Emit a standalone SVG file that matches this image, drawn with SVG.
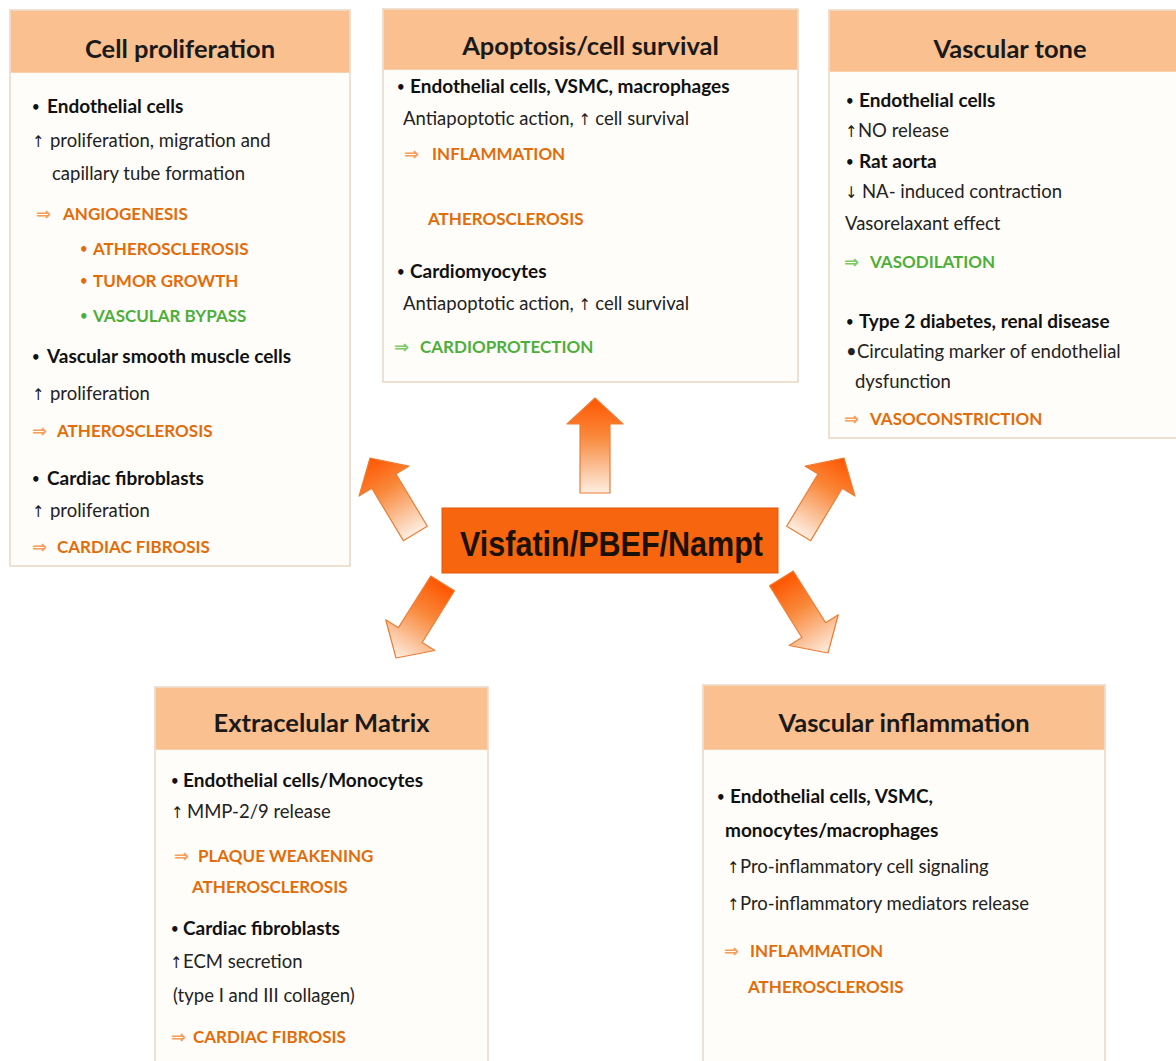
<svg xmlns="http://www.w3.org/2000/svg" width="1176" height="1061" viewBox="0 0 1176 1061">
  <defs>
    <linearGradient id="gUp" x1="0" y1="0" x2="0" y2="1">
      <stop offset="0" stop-color="#FF5500"/>
      <stop offset="0.4" stop-color="#F9883A"/>
      <stop offset="1" stop-color="#FDEEE2"/>
    </linearGradient>
    <linearGradient id="gDown" x1="0" y1="0" x2="0" y2="1">
      <stop offset="0" stop-color="#FDEEE2"/>
      <stop offset="0.6" stop-color="#F9883A"/>
      <stop offset="1" stop-color="#FF5500"/>
    </linearGradient>
    <style>
      .box { fill: #FFFDF9; stroke: #EAD6C4; stroke-width: 1.5; }
      .hdrbg { fill: #FAC08F; }
      .hdr { font-family: Lato, "Liberation Sans", sans-serif; font-weight: 700; font-size: 25.5px; fill: #1A1A1A; text-anchor: middle; }
      .b { font-family: Lato, "Liberation Sans", sans-serif; font-weight: 700; font-size: 19px; fill: #111; }
      .r { font-family: Lato, "Liberation Sans", sans-serif; font-weight: 400; font-size: 18.5px; fill: #222; }
      .o { font-family: Lato, "Liberation Sans", sans-serif; font-weight: 700; font-size: 17px; fill: #E36C0A; }
      .g { font-family: Lato, "Liberation Sans", sans-serif; font-weight: 700; font-size: 17px; fill: #4DAF3A; }
      .ao { font-family: "DejaVu Sans", sans-serif; font-weight: 700; font-size: 18px; fill: #F5A05A; }
      .ag { font-family: "DejaVu Sans", sans-serif; font-weight: 700; font-size: 18px; fill: #7CCB62; }
      .sym { font-family: "DejaVu Sans Condensed", "DejaVu Sans", sans-serif; font-size: 16px; fill: #222; }
      .blt { font-family: "DejaVu Sans", sans-serif; font-weight: 700; font-size: 15px; }
      .arrow { stroke: #EE7C33; stroke-width: 1.2; stroke-linejoin: round; }
      .center { fill: #F8650F; stroke: #E0580A; stroke-width: 1; }
      .ctext { font-family: "Liberation Sans", Arial, sans-serif; font-weight: 700; font-size: 35px; fill: #1A1208; }
    </style>
  </defs>

  <rect width="1176" height="1061" fill="#FFFFFF"/>

  <g id="connectors">
    <polygon class="arrow" fill="url(#gUp)" transform="translate(595,398)" points="0,0 28,26 15,26 15,95 -15,95 -15,26 -28,26"/>
    <polygon class="arrow" fill="url(#gUp)" transform="translate(370,458) rotate(-31)" points="0,0 29,27 14,27 14,88 -14,88 -14,27 -29,27"/>
    <polygon class="arrow" fill="url(#gUp)" transform="translate(844,458) rotate(31)" points="0,0 29,27 14,27 14,88 -14,88 -14,27 -29,27"/>
    <polygon class="arrow" fill="url(#gDown)" transform="translate(396,658) rotate(-148)" points="0,0 29,27 14,27 14,88 -14,88 -14,27 -29,27"/>
    <polygon class="arrow" fill="url(#gDown)" transform="translate(828,653) rotate(148)" points="0,0 29,27 14,27 14,88 -14,88 -14,27 -29,27"/>
  </g>

  <g id="visfatin">
    <rect class="center" x="442" y="508" width="336" height="65"/>
    <text class="ctext" x="460" y="556" textLength="303" lengthAdjust="spacingAndGlyphs">Visfatin/PBEF/Nampt</text>
  </g>

  <g id="cell-proliferation">
    <rect class="box" x="10" y="10" width="340" height="556"/>
    <rect class="hdrbg" x="10.75" y="10.75" width="338.5" height="62"/>
    <text class="hdr" x="180" y="58">Cell proliferation</text>
    <text y="113"><tspan class="blt" x="31" fill="#111">•</tspan><tspan class="b" x="47">Endothelial cells</tspan></text>
    <text y="147"><tspan class="sym" x="32">↑</tspan><tspan class="r" x="50">proliferation, migration and</tspan></text>
    <text class="r" x="52" y="180">capillary tube formation</text>
    <text y="220"><tspan class="ao" x="36">⇒</tspan><tspan class="o" x="63">ANGIOGENESIS</tspan></text>
    <text y="255"><tspan class="blt" x="79" fill="#E36C0A">•</tspan><tspan class="o" x="93">ATHEROSCLEROSIS</tspan></text>
    <text y="287"><tspan class="blt" x="79" fill="#E36C0A">•</tspan><tspan class="o" x="93">TUMOR GROWTH</tspan></text>
    <text y="322"><tspan class="blt" x="79" fill="#4DAF3A">•</tspan><tspan class="g" x="93">VASCULAR BYPASS</tspan></text>
    <text y="363"><tspan class="blt" x="31" fill="#111">•</tspan><tspan class="b" x="47">Vascular smooth muscle cells</tspan></text>
    <text y="400"><tspan class="sym" x="32">↑</tspan><tspan class="r" x="50">proliferation</tspan></text>
    <text y="437"><tspan class="ao" x="32">⇒</tspan><tspan class="o" x="57">ATHEROSCLEROSIS</tspan></text>
    <text y="485"><tspan class="blt" x="31" fill="#111">•</tspan><tspan class="b" x="47">Cardiac fibroblasts</tspan></text>
    <text y="517"><tspan class="sym" x="32">↑</tspan><tspan class="r" x="50">proliferation</tspan></text>
    <text y="553"><tspan class="ao" x="32">⇒</tspan><tspan class="o" x="57">CARDIAC FIBROSIS</tspan></text>
  </g>

  <g id="apoptosis">
    <rect class="box" x="383" y="9" width="415" height="373"/>
    <rect class="hdrbg" x="383.75" y="9.75" width="413.5" height="60"/>
    <text class="hdr" x="590.5" y="55">Apoptosis/cell survival</text>
    <text y="93"><tspan class="blt" x="396" fill="#111">•</tspan><tspan class="b" x="410">Endothelial cells, VSMC, macrophages</tspan></text>
    <text y="125"><tspan class="r" x="403">Antiapoptotic action, </tspan><tspan class="sym">↑</tspan><tspan class="r"> cell survival</tspan></text>
    <text y="160"><tspan class="ao" x="404">⇒</tspan><tspan class="o" x="432">INFLAMMATION</tspan></text>
    <text class="o" x="428" y="225">ATHEROSCLEROSIS</text>
    <text y="278"><tspan class="blt" x="396" fill="#111">•</tspan><tspan class="b" x="410">Cardiomyocytes</tspan></text>
    <text y="310"><tspan class="r" x="403">Antiapoptotic action, </tspan><tspan class="sym">↑</tspan><tspan class="r"> cell survival</tspan></text>
    <text y="353"><tspan class="ag" x="394">⇒</tspan><tspan class="g" x="420">CARDIOPROTECTION</tspan></text>
  </g>

  <g id="vascular-tone">
    <rect class="box" x="829" y="10" width="362" height="428"/>
    <rect class="hdrbg" x="829.75" y="10.75" width="360" height="61"/>
    <text class="hdr" x="1010" y="58">Vascular tone</text>
    <text y="107"><tspan class="blt" x="845" fill="#111">•</tspan><tspan class="b" x="859">Endothelial cells</tspan></text>
    <text y="137"><tspan class="sym" x="845">↑</tspan><tspan class="r" x="858">NO release</tspan></text>
    <text y="168"><tspan class="blt" x="845" fill="#111">•</tspan><tspan class="b" x="859">Rat aorta</tspan></text>
    <text y="198"><tspan class="sym" x="845">↓</tspan><tspan class="r" x="862">NA- induced contraction</tspan></text>
    <text class="r" x="845" y="230">Vasorelaxant effect</text>
    <text y="268"><tspan class="ag" x="844">⇒</tspan><tspan class="g" x="870">VASODILATION</tspan></text>
    <text y="328"><tspan class="blt" x="845" fill="#111">•</tspan><tspan class="b" x="859">Type 2 diabetes, renal disease</tspan></text>
    <text y="358"><tspan class="r" x="846">•</tspan><tspan class="r" x="857">Circulating marker of endothelial</tspan></text>
    <text class="r" x="855" y="388">dysfunction</text>
    <text y="425"><tspan class="ao" x="844">⇒</tspan><tspan class="o" x="870">VASOCONSTRICTION</tspan></text>
  </g>

  <g id="extracellular-matrix">
    <rect class="box" x="155" y="687" width="333" height="390"/>
    <rect class="hdrbg" x="155.75" y="687.75" width="331.5" height="62"/>
    <text class="hdr" x="321.5" y="732">Extracelular Matrix</text>
    <text y="787"><tspan class="blt" x="170" fill="#111">•</tspan><tspan class="b" x="183">Endothelial cells/Monocytes</tspan></text>
    <text y="818"><tspan class="sym" x="171">↑</tspan><tspan class="r" x="187">MMP-2/9 release</tspan></text>
    <text y="862"><tspan class="ao" x="174">⇒</tspan><tspan class="o" x="198">PLAQUE WEAKENING</tspan></text>
    <text class="o" x="192" y="893">ATHEROSCLEROSIS</text>
    <text y="935"><tspan class="blt" x="170" fill="#111">•</tspan><tspan class="b" x="183">Cardiac fibroblasts</tspan></text>
    <text y="968"><tspan class="sym" x="170">↑</tspan><tspan class="r" x="183">ECM secretion</tspan></text>
    <text class="r" x="173" y="1002">(type I and III collagen)</text>
    <text y="1043"><tspan class="ao" x="171">⇒</tspan><tspan class="o" x="193">CARDIAC FIBROSIS</tspan></text>
  </g>

  <g id="vascular-inflammation">
    <rect class="box" x="703" y="685" width="402" height="390"/>
    <rect class="hdrbg" x="703.75" y="685.75" width="400.5" height="64"/>
    <text class="hdr" x="904" y="732">Vascular inflammation</text>
    <text y="803"><tspan class="blt" x="716" fill="#111">•</tspan><tspan class="b" x="730">Endothelial cells, VSMC,</tspan></text>
    <text class="b" x="725" y="837">monocytes/macrophages</text>
    <text y="873"><tspan class="sym" x="727">↑</tspan><tspan class="r" x="740">Pro-inflammatory cell signaling</tspan></text>
    <text y="910"><tspan class="sym" x="727">↑</tspan><tspan class="r" x="740">Pro-inflammatory mediators release</tspan></text>
    <text y="957"><tspan class="ao" x="724">⇒</tspan><tspan class="o" x="750">INFLAMMATION</tspan></text>
    <text class="o" x="748" y="993">ATHEROSCLEROSIS</text>
  </g>
</svg>
